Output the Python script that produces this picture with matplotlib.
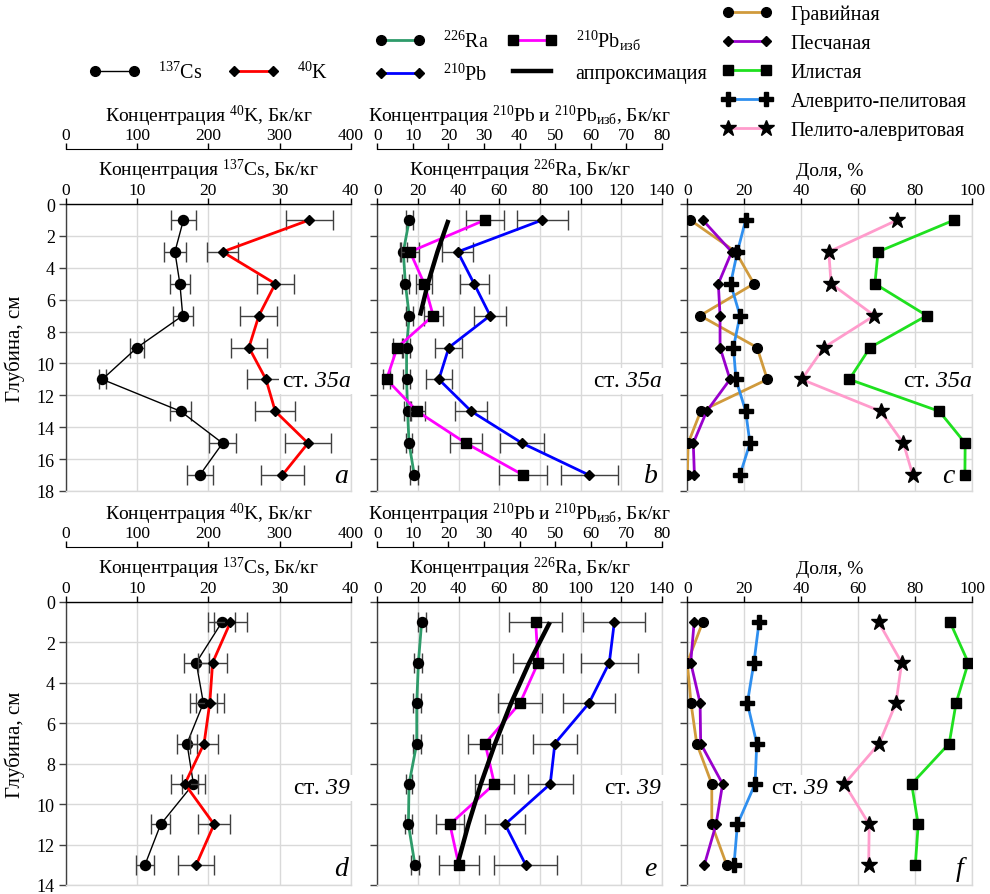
import matplotlib
matplotlib.use("Agg")
import matplotlib.pyplot as plt
from matplotlib.lines import Line2D
import matplotlib.transforms as mtransforms

plt.rcParams['font.family'] = ['Liberation Serif', 'DejaVu Serif']
plt.rcParams['mathtext.fontset'] = 'custom'
plt.rcParams['mathtext.rm'] = 'Liberation Serif'
plt.rcParams['mathtext.it'] = 'Liberation Serif:italic'
plt.rcParams['mathtext.sf'] = 'Liberation Serif:italic'
plt.rcParams['mathtext.bf'] = 'Liberation Serif:bold'

# ---------------- data: station 35a ----------------
depth_35a = [1, 3, 5, 7, 9, 11, 13, 15, 17]
cs_35a = [16.5, 15.3, 16.0, 16.4, 10.0, 5.1, 16.1, 22.0, 18.8]
cs_35a_err = [1.7, 1.5, 1.45, 1.4, 1.0, 0.5, 1.5, 1.95, 1.8]
k_35a = [342, 220, 294, 271, 257, 281, 294, 340, 304]
k_35a_err = [33, 22, 26, 26, 25, 27, 28, 32, 30]

ra_35a = [15.7, 12.8, 13.8, 15.7, 14.4, 14.4, 14.9, 15.6, 18.2]
ra_35a_err = [1.7, 1.6, 1.6, 1.7, 1.6, 1.6, 1.7, 1.7, 1.9]
pb_35a = [46.4, 22.6, 27.2, 31.7, 20.1, 17.3, 26.4, 40.7, 59.5]
pb_35a_err = [7.1, 4.3, 4.1, 4.6, 3.8, 3.6, 4.5, 6.2, 8.0]
pbex_35a = [30.3, 9.2, 13.2, 15.7, 5.6, 2.6, 11.2, 24.9, 41.0]
pbex_35a_err = [5.4, 2.4, 2.3, 2.7, 1.3, 1.0, 2.1, 4.5, 6.7]
approx_35a_depth = [1, 3, 5, 7]
approx_35a = [20.0, 16.9, 14.2, 12.0]

gravel_35a = [1.0, 17.0, 23.4, 4.5, 24.5, 28.1, 4.7, 0.3, 0.0]
sand_35a = [5.4, 15.6, 10.9, 11.5, 11.5, 15.0, 6.8, 2.1, 2.5]
silt_35a = [93.8, 67.0, 65.9, 84.1, 64.2, 56.9, 88.5, 97.6, 97.5]
alevpel_35a = [20.5, 17.6, 15.2, 18.5, 16.2, 17.1, 20.5, 22.0, 18.5]
pelalev_35a = [73.8, 49.7, 50.5, 65.7, 48.0, 40.2, 67.9, 75.9, 79.2]

# ---------------- data: station 39 ----------------
depth_39 = [1, 3, 5, 7, 9, 11, 13]
cs_39 = [21.9, 18.3, 19.3, 17.0, 17.9, 13.3, 11.1]
cs_39_err = [1.9, 1.75, 1.85, 1.4, 1.6, 1.3, 1.2]
k_39 = [231, 206, 202, 194, 167, 208, 183]
k_39_err = [23, 20, 20, 20, 19, 22, 25]

ra_39 = [21.8, 20.2, 19.4, 19.4, 15.6, 15.3, 18.5]
ra_39_err = [2.0, 2.0, 1.9, 1.9, 1.7, 1.7, 1.9]
pb_39 = [66.6, 65.2, 59.5, 49.9, 48.6, 35.9, 41.7]
pb_39_err = [8.7, 8.1, 7.2, 6.2, 6.3, 5.6, 8.8]
pbex_39 = [44.5, 45.2, 40.1, 30.3, 32.9, 20.4, 22.9]
pbex_39_err = [7.4, 7.1, 6.2, 4.7, 5.4, 3.9, 5.6]
approx_39_depth = [1, 3, 5, 7, 9, 11, 13]
approx_39 = [48.5, 42.7, 37.6, 33.1, 29.1, 25.6, 22.5]

gravel_39 = [5.4, 0.0, 1.3, 3.3, 8.6, 8.6, 13.8]
sand_39 = [2.4, 1.2, 4.5, 4.7, 12.4, 10.1, 6.0]
silt_39 = [92.3, 98.7, 94.4, 92.0, 78.8, 81.1, 80.1]
alevpel_39 = [25.2, 23.4, 21.1, 24.4, 23.8, 17.6, 16.4]
pelalev_39 = [67.2, 75.3, 73.3, 67.4, 55.2, 63.9, 63.7]

# ---------------- labels ----------------
lbl_cs = r'$^{137}$Cs'
lbl_k = r'$^{40}$K'
lbl_ra = r'$^{226}$Ra'
lbl_pb = r'$^{210}$Pb'
lbl_pbex = r'$^{210}$Pb$_{\mathregular{изб}}$'
lbl_approx = 'аппроксимация'
frac_labels = ['Гравийная', 'Песчаная', 'Илистая', 'Алеврито-пелитовая', 'Пелито-алевритовая']

# ---------------- styles ----------------
C_CS, C_K = 'black', '#ff0000'
C_RA, C_PB, C_PBEX = '#2e9b6a', '#0000ff', '#ff00ff'
C_GRAV, C_SAND, C_SILT, C_AP, C_PA = '#d09a3c', '#9900cc', '#1fe01f', '#2f8fef', '#ff9ccc'
GRID = '#d9d9d9'
ECOL = '#404040'
FS_TICK = 12.5
FS_YTICK = 13
FS_LAB = 14

W, H = 990, 895
fig = plt.figure(figsize=(W / 100, H / 100), dpi=100)


def fax(left, top, right, bottom):
    return fig.add_axes([left / W, 1 - bottom / H, (right - left) / W, (bottom - top) / H])


cols = [(66, 350.7), (377.3, 662), (687.3, 972)]
rows = [(205, 492, 18, 55), (603, 886, 14, 55)]


def style_main(ax, xmax, xstep, ymax, xlabel, show_ylabels):
    ax.set_xlim(0, xmax)
    ax.set_ylim(ymax, 0)
    ax.set_xticks(range(0, xmax + 1, xstep))
    ax.set_yticks(range(0, ymax + 1, 2))
    ax.xaxis.tick_top()
    ax.xaxis.set_label_position('top')
    ax.set_xlabel(xlabel, fontsize=FS_LAB, labelpad=5)
    ax.tick_params(axis='x', direction='out', length=4, width=1, pad=0.5, labelsize=FS_TICK,
                   top=True, bottom=False, color='black')
    ax.tick_params(axis='y', direction='out', length=5, width=1, pad=3, labelsize=FS_YTICK,
                   left=True, right=False, labelleft=show_ylabels, color='#404040')
    ax.grid(True, color=GRID, lw=1)
    ax.set_axisbelow(True)
    ax.spines['top'].set_color('black')
    ax.spines['left'].set_color('#404040')
    ax.spines['right'].set_color(GRID)
    ax.spines['bottom'].set_color(GRID)
    for s in ax.spines.values():
        s.set_linewidth(1)


def add_twin(ax, xmax, xstep, xlabel, offset_px):
    ax2 = ax.twiny()
    ax.xaxis.tick_top()
    ax.xaxis.set_label_position('top')
    ax2.set_xlim(0, xmax)
    ax2.set_xticks(range(0, xmax + 1, xstep))
    ax2.spines['top'].set_position(('outward', offset_px * 0.72))
    for s in ['bottom', 'left', 'right']:
        ax2.spines[s].set_visible(False)
    ax2.spines['top'].set_color('black')
    ax2.tick_params(axis='x', direction='out', length=4, width=1, pad=0.5, labelsize=FS_TICK,
                    top=True, bottom=False)
    ax2.set_xlabel(xlabel, fontsize=FS_LAB, labelpad=4)
    ax2.xaxis.set_label_position('top')
    return ax2


def series(ax, x, y, color, lw, marker, ms, xerr=None, z=3):
    if xerr is not None:
        ax.errorbar(x, y, xerr=xerr, fmt='none', ecolor=ECOL, elinewidth=1,
                    capsize=7, capthick=1, zorder=z - 1)
    ax.plot(x, y, color=color, lw=lw, marker=marker, ms=ms, mfc='black', mec='black', zorder=z)


def station_label(ax, text, depth, xpos=1.0, ha='right'):
    tr = mtransforms.blended_transform_factory(ax.transAxes, ax.transData)
    ax.text(xpos, depth, text, transform=tr, ha=ha, va='center', fontsize=17, zorder=20,
            bbox=dict(boxstyle='square,pad=0.1', fc='white', ec='none'))


def panel_letter(ax, letter, depth, xpos):
    tr = mtransforms.blended_transform_factory(ax.transAxes, ax.transData)
    ax.text(xpos, depth, letter, transform=tr, ha='center', va='center', fontsize=20,
            style='italic', zorder=20)


datasets = [
    dict(depth=depth_35a, cs=cs_35a, cse=cs_35a_err, k=k_35a, ke=k_35a_err,
         ra=ra_35a, rae=ra_35a_err, pb=pb_35a, pbe=pb_35a_err, pbex=pbex_35a, pbexe=pbex_35a_err,
         ad=approx_35a_depth, av=approx_35a,
         fr=[gravel_35a, sand_35a, silt_35a, alevpel_35a, pelalev_35a],
         st=r'ст. $\mathsf{35a}$', st_depth=11.1, letters='abc', let_depth=17.0,
         let_x=[0.965, 0.96, 0.916], stf_x=1.0),
    dict(depth=depth_39, cs=cs_39, cse=cs_39_err, k=k_39, ke=k_39_err,
         ra=ra_39, rae=ra_39_err, pb=pb_39, pbe=pb_39_err, pbex=pbex_39, pbexe=pbex_39_err,
         ad=approx_39_depth, av=approx_39,
         fr=[gravel_39, sand_39, silt_39, alevpel_39, pelalev_39],
         st=r'ст. $\mathsf{39}$', st_depth=9.2, letters='def', let_depth=13.2,
         let_x=[0.966, 0.958, 0.957], stf_x=0.497),
]

frac_styles = [(C_GRAV, 'o', 7), (C_SAND, 'D', 5.5), (C_SILT, 's', 6.5), (C_AP, 'P', 9.5), (C_PA, '*', 12)]
frac_order = [4, 2, 0, 1, 3]

for (top, bottom, ymax, off), d in zip(rows, datasets):
    # panel a / d
    ax = fax(cols[0][0], top, cols[0][1], bottom)
    style_main(ax, 40, 10, ymax, r'Концентрация $^{137}$Cs, Бк/кг', True)
    ax.set_ylabel('Глубина, см', fontsize=15)
    ax.yaxis.set_label_coords(-0.145, 0.5)
    ax2 = add_twin(ax, 400, 100, r'Концентрация $^{40}$K, Бк/кг', off)
    series(ax, d['cs'], d['depth'], C_CS, 1.0, 'o', 7.2, d['cse'])
    series(ax2, d['k'], d['depth'], C_K, 2.0, 'D', 5.5, d['ke'])
    station_label(ax2, d['st'], d['st_depth'])
    panel_letter(ax2, d['letters'][0], d['let_depth'], d['let_x'][0])

    # panel b / e
    ax = fax(cols[1][0], top, cols[1][1], bottom)
    style_main(ax, 140, 20, ymax, r'Концентрация $^{226}$Ra, Бк/кг', False)
    ax2 = add_twin(ax, 80, 10, r'Концентрация $^{210}$Pb и $^{210}$Pb$_{\mathregular{изб}}$, Бк/кг', off)
    series(ax, d['ra'], d['depth'], C_RA, 2.0, 'o', 7.2, d['rae'])
    series(ax2, d['pb'], d['depth'], C_PB, 2.0, 'D', 5.5, d['pbe'])
    series(ax2, d['pbex'], d['depth'], C_PBEX, 2.0, 's', 6.5, d['pbexe'])
    ax2.plot(d['av'], d['ad'], color='black', lw=3.2, zorder=6, solid_capstyle='butt')
    station_label(ax2, d['st'], d['st_depth'])
    panel_letter(ax2, d['letters'][1], d['let_depth'], d['let_x'][1])

    # panel c / f
    ax = fax(cols[2][0], top, cols[2][1], bottom)
    style_main(ax, 100, 20, ymax, 'Доля, %', False)
    for i in frac_order:
        c, m, ms = frac_styles[i]
        series(ax, d['fr'][i], d['depth'], c, 2.0, m, ms, None, z=3 + i * 0.1)
    station_label(ax, d['st'], d['st_depth'], xpos=d['stf_x'], ha='right')
    panel_letter(ax, d['letters'][2], d['let_depth'], d['let_x'][2])

# ---------------- legends ----------------
def h(color, lw, marker=None, ms=6):
    return Line2D([0], [0], color=color, lw=lw, marker=marker, ms=ms, mfc='black', mec='black')


leg_kw = dict(loc='center', frameon=False, fontsize=14.5, handlelength=2.5, handletextpad=0.9,
              numpoints=2, borderpad=0, borderaxespad=0)
fig.legend([h(C_CS, 1.0, 'o', 7), h(C_K, 2.0, 'D', 5)], [lbl_cs, lbl_k], ncol=2,
           columnspacing=1.3, bbox_to_anchor=(0.2106, 0.9184), **leg_kw)
fig.legend([h(C_RA, 2.0, 'o', 7), h(C_PB, 2.0, 'D', 5), h(C_PBEX, 2.0, 's', 6.5), h('black', 3.2)],
           [lbl_ra, lbl_pb, lbl_pbex, lbl_approx], ncol=2, columnspacing=0.9, labelspacing=0.6,
           bbox_to_anchor=(0.5465, 0.9358), **leg_kw)
fig.legend([h(c, 2.0, m, ms) for c, m, ms in frac_styles], frac_labels, ncol=1, labelspacing=0.5,
           bbox_to_anchor=(0.8527, 0.918), **leg_kw)

fig.savefig('out.png', dpi=100)
